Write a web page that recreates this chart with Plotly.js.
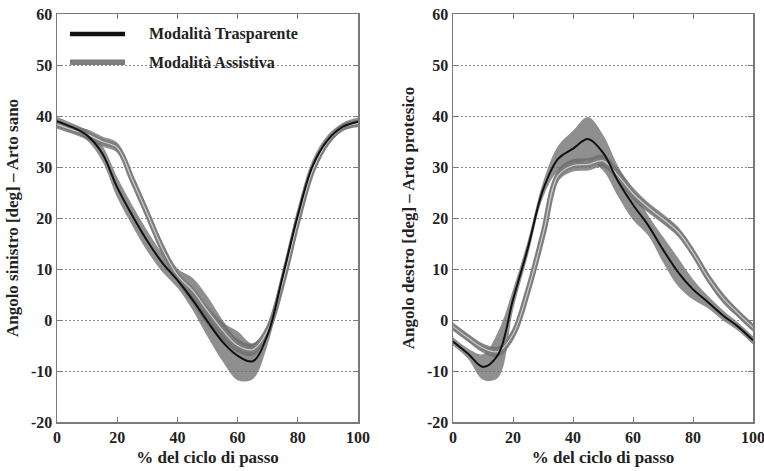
<!DOCTYPE html>
<html>
<head>
<meta charset="utf-8">
<script src="https://cdn.plot.ly/plotly-3.0.1.min.js"></script>
<style>html,body{margin:0;padding:0;background:#fff;}#chart{width:764px;height:471px;}</style>
</head>
<body>
<div id="chart"></div>
<script>
// % of gait cycle
const gaitPct = [0,5,10,15,20,25,30,35,40,45,50,55,60,65,70,75,80,85,90,95,100];

// Left (sound limb) — Modalità Trasparente
const leftTraspMean = [39,37.8,36.2,32.7,26,20.5,15.5,11.2,7.8,4.0,-0.3,-4.3,-7.0,-8.1,-2.8,8.6,20.5,30.3,35.3,37.9,38.9];
const leftTraspSd   = [0.8,0.8,1,1.5,2,2,2,1.8,1.5,2,3,3.8,4.8,3.5,2,1.5,1.5,1.2,1,0.8,0.8];
// Left (sound limb) — Modalità Assistiva
const leftAssistMean = [38.3,37.3,36.4,35,33.8,27.5,20.8,14,8.8,5.8,1.8,-2,-5,-5.8,-2,7.5,19.5,29.5,35,37.8,38.5];
const leftAssistSd   = [0.8,0.8,1,1,1,1.2,1.3,1.3,1.3,2.5,2.8,2,1.3,1.2,1,1.2,1.2,1,0.8,0.7,0.7];

// Right (prosthetic limb) — Modalità Trasparente
const rightTraspMean = [-4.2,-6.6,-9.2,-6.8,4.0,14.2,25.5,31.6,33.6,35.5,32.8,27.2,22.6,18.6,13.8,9.4,6.0,3.5,0.9,-1.3,-4];
const rightTraspSd   = [0.8,1,2.5,4.5,2,1.5,1.5,2.5,3.5,4.3,3.5,3,3,2,2.5,2.8,2,1.2,1,0.8,0.8];
// Right (prosthetic limb) — Modalità Assistiva
const rightAssistMean = [-1.3,-3.5,-5.5,-6.2,-2.8,5.8,16.8,28.3,30.3,30.5,31.2,28.3,24.8,22.1,19.8,17.3,13.2,8.3,4.3,1.3,-1.5];
const rightAssistSd   = [0.8,0.8,0.9,1,1.2,1.2,1.2,1.2,1.2,1.2,1.2,1.2,1.2,1,1,1,1,1,1,0.8,0.8];

const xTickVals = [0,20,40,60,80,100];
const yTickVals = [-20,-10,0,10,20,30,40,50,60];
const yTickText = ['-20','-10','0','10','20','30','40','50','60'];

const seriesNames = ['Modalità Trasparente','Modalità Assistiva'];
const xTitle = '% del ciclo di passo';
const yTitleLeft = 'Angolo sinistro [deg] – Arto sano';
const yTitleRight = 'Angolo destro [deg] – Arto protesico';

const serif = 'Liberation Serif, Times New Roman, serif';
const bandColor = 'rgba(105,105,105,0.75)';
const assistColor = '#7d7d7d';

function band(xa, ya, mean, sd){
  const up = mean.map((m,i)=>m+sd[i]);
  const lo = mean.map((m,i)=>m-sd[i]);
  return [
    {x:gaitPct, y:up, xaxis:xa, yaxis:ya, mode:'lines', line:{width:0, shape:'spline', smoothing:1}, showlegend:false, hoverinfo:'skip'},
    {x:gaitPct, y:lo, xaxis:xa, yaxis:ya, mode:'lines', line:{width:0, shape:'spline', smoothing:1}, fill:'tonexty', fillcolor:bandColor, showlegend:false, hoverinfo:'skip'}
  ];
}
function panel(xa, ya, tMean, tSd, aMean, aSd){
  return [
    ...band(xa, ya, tMean, tSd),
    ...band(xa, ya, aMean, aSd),
    {x:gaitPct, y:aMean, xaxis:xa, yaxis:ya, mode:'lines', name:seriesNames[1], line:{color:assistColor, width:5.5, shape:'spline', smoothing:1}, showlegend:false},
    {x:gaitPct, y:aMean, xaxis:xa, yaxis:ya, mode:'lines', line:{color:'#cbcbcb', width:1.2, shape:'spline', smoothing:1}, showlegend:false, hoverinfo:'skip'},
    {x:gaitPct, y:tMean, xaxis:xa, yaxis:ya, mode:'lines', name:seriesNames[0], line:{color:'#111', width:2, shape:'spline', smoothing:1}, showlegend:false}
  ];
}

const data = [
  ...panel('x','y', leftTraspMean, leftTraspSd, leftAssistMean, leftAssistSd),
  ...panel('x2','y2', rightTraspMean, rightTraspSd, rightAssistMean, rightAssistSd)
];

const tickFont = {family:serif, size:16, color:'#222', weight:'bold'};
const titleFont = {family:serif, size:17, color:'#222', weight:'bold'};
function xAx(domain, anchor){
  return {domain:domain, anchor:anchor, range:[0,100], tickmode:'array', tickvals:xTickVals,
    showline:true, linecolor:'#7a7a7a', linewidth:1.5, mirror:'ticks',
    ticks:'inside', ticklen:5, tickcolor:'#7a7a7a', showgrid:false, zeroline:false,
    ticklabeloverflow:'allow',
    tickfont:tickFont, title:{text:xTitle, font:titleFont, standoff:6}};
}
function yAx(anchor, title){
  return {domain:[0,1], anchor:anchor, range:[-20,60], tickmode:'array', tickvals:yTickVals, ticktext:yTickText,
    showline:true, linecolor:'#7a7a7a', linewidth:1.5, mirror:'ticks',
    ticks:'inside', ticklen:5, tickcolor:'#7a7a7a',
    showgrid:true, gridcolor:'#8c8c8c', griddash:'1.5px,2.5px', gridwidth:1, zeroline:false,
    ticklabeloverflow:'allow',
    tickfont:tickFont, title:{text:title, font:titleFont, standoff:8}};
}

const layout = {
  width:764, height:471,
  margin:{l:57, r:11, t:14, b:49},
  paper_bgcolor:'#fff', plot_bgcolor:'#fff',
  showlegend:false,
  xaxis:xAx([0,0.4325],'y'),
  yaxis:yAx('x', yTitleLeft),
  xaxis2:xAx([0.569,1],'y2'),
  yaxis2:yAx('x2', yTitleRight),
  shapes:[
    {type:'line', xref:'x domain', yref:'y domain', x0:0.043, x1:0.226, y0:0.951, y1:0.951, line:{color:'#111', width:4.5}},
    {type:'line', xref:'x domain', yref:'y domain', x0:0.043, x1:0.226, y0:0.882, y1:0.882, line:{color:assistColor, width:5.5}}
  ],
  annotations:[
    {xref:'x domain', yref:'y domain', x:0.299, y:0.951, xanchor:'left', yanchor:'middle', showarrow:false, text:seriesNames[0], font:{family:serif, size:16, color:'#222', weight:'bold'}},
    {xref:'x domain', yref:'y domain', x:0.299, y:0.882, xanchor:'left', yanchor:'middle', showarrow:false, text:seriesNames[1], font:{family:serif, size:16, color:'#222', weight:'bold'}}
  ]
};

Plotly.newPlot('chart', data, layout, {displayModeBar:false, staticPlot:true});
</script>
</body>
</html>
